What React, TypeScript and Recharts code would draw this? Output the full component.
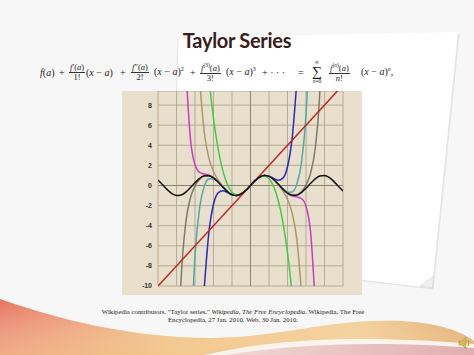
import React from 'react';
import { LineChart, Line, XAxis, YAxis, CartesianGrid, ReferenceLine } from 'recharts';

// sample positions (x) shared by the curves
const xGrid = [
  -10, -9.5, -9, -8.5, -8, -7.5, -7, -6.5, -6, -5.5, -5, -4.5, -4, -3.5, -3, -2.5, -2, -1.5, -1, -0.5,
  0, 0.5, 1, 1.5, 2, 2.5, 3, 3.5, 4, 4.5, 5, 5.5, 6, 6.5, 7, 7.5, 8, 8.5, 9, 9.5, 10,
];

const sinValues = [
  0.544, 0.0752, -0.4121, -0.7985, -0.9894, -0.938, -0.657, -0.2151, 0.2794, 0.7055, 0.9589, 0.9775, 0.7568, 0.3508, -0.1411, -0.5985, -0.9093, -0.9975, -0.8415, -0.4794,
  0, 0.4794, 0.8415, 0.9975, 0.9093, 0.5985, 0.1411, -0.3508, -0.7568, -0.9775, -0.9589, -0.7055, -0.2794, 0.2151, 0.657, 0.938, 0.9894, 0.7985, 0.4121, -0.0752, -0.544,
];

const deg1X = [-10, 10];
const deg1Values = [-10, 10];

// x from -4.5 to 4.5
const deg3Values = [
  10.6875, 6.6667, 3.6458, 1.5, 0.1042, -0.6667, -0.9375, -0.8333, -0.4792,
  0, 0.4792, 0.8333, 0.9375, 0.6667, -0.1042, -1.5, -3.6458, -6.6667, -10.6875,
];
// x from -5 to 5
const deg5Values = [
  -10.2083, -4.6898, -1.8667, -0.731, -0.525, -0.7096, -0.9333, -1.0008, -0.8417, -0.4794,
  0, 0.4794, 0.8417, 1.0008, 0.9333, 0.7096, 0.525, 0.731, 1.8667, 4.6898, 10.2083,
];
// x from -5.5 to 5.5
const deg7Values = [
  10.4958, 5.2927, 2.7243, 1.3841, 0.5456, -0.0911, -0.5885, -0.9079, -0.9974, -0.8415, -0.4794,
  0, 0.4794, 0.8415, 0.9974, 0.9079, 0.5885, 0.0911, -0.5456, -1.3841, -2.7243, -5.2927, -10.4958,
];
// x from -6.5 to 6.5
const deg9Values = [
  -17.231, -7.0285, -2.1953, -0.0896, 0.6391, 0.6617, 0.3284, -0.1453, -0.599, -0.9093, -0.9975, -0.8415, -0.4794,
  0, 0.4794, 0.8415, 0.9975, 0.9093, 0.599, 0.1453, -0.3284, -0.6617, -0.6391, 0.0896, 2.1953, 7.0285, 17.231,
];
// x from -7 to 7
const deg11Values = [
  11.842, 4.692, 2.0603, 1.2948, 1.1336, 1.023, 0.7668, 0.3526, -0.1409, -0.5984, -0.9093, -0.9975, -0.8415, -0.4794,
  0, 0.4794, 0.8415, 0.9975, 0.9093, 0.5984, 0.1409, -0.3526, -0.7668, -1.023, -1.1336, -1.2948, -2.0603, -4.692, -11.842,
];
// x from -8 to 8
const deg13Values = [
  -22.589, -9.349, -3.717, -1.245, -0.0371, 0.618, 0.9376, 0.9732, 0.756, 0.3507, -0.1411, -0.5985, -0.9093, -0.9975, -0.8415, -0.4794,
  0, 0.4794, 0.8415, 0.9975, 0.9093, 0.5985, 0.1411, -0.3507, -0.756, -0.9732, -0.9376, -0.618, 0.0371, 1.245, 3.717, 9.349, 22.589,
];

const yTicks = [-10, -8, -6, -4, -2, 0, 2, 4, 6, 8];
const xTicks = [-10, -8, -6, -4, -2, 0, 2, 4, 6, 8, 10];

const within = (r: number) => xGrid.filter((x) => Math.abs(x) <= r + 1e-9);
const toRows = (xs: number[], ys: number[]) => xs.map((x, i) => ({ x, y: ys[i] }));

const curves = [
  { key: 'd13', rows: toRows(within(8), deg13Values), color: '#7e7a6c' },
  { key: 'd11', rows: toRows(within(7), deg11Values), color: '#c83cc8' },
  { key: 'd9', rows: toRows(within(6.5), deg9Values), color: '#4eaca4' },
  { key: 'd7', rows: toRows(within(5.5), deg7Values), color: '#ac9868' },
  { key: 'd5', rows: toRows(within(5), deg5Values), color: '#2a2ab4' },
  { key: 'd3', rows: toRows(within(4.5), deg3Values), color: '#40cc40' },
  { key: 'd1', rows: toRows(deg1X, deg1Values), color: '#c02424' },
  { key: 'sin', rows: toRows(xGrid, sinValues), color: '#111111' },
];

const serif = '"Liberation Serif", "DejaVu Serif", serif';

const Frac = ({ num, den }: { num: React.ReactNode; den: React.ReactNode }) => (
  <span style={{ display: 'inline-flex', flexDirection: 'column', alignItems: 'center', fontSize: 8.5, lineHeight: '9px' }}>
    <span style={{ padding: '0 1px' }}>{num}</span>
    <span style={{ borderTop: '0.8px solid #333', width: '100%', textAlign: 'center' }}>{den}</span>
  </span>
);

const I = ({ children }: { children: React.ReactNode }) => <i>{children}</i>;

const xa = (
  <span>
    (<I>x</I> − <I>a</I>)
  </span>
);

const formulaParts: [number, React.ReactNode][] = [
  [40, <span><I>f</I>(<I>a</I>)</span>],
  [59, '+'],
  [69, <Frac num={<span><I>f</I>′(<I>a</I>)</span>} den="1!" />],
  [86, xa],
  [120, '+'],
  [131, <Frac num={<span><I>f</I>″(<I>a</I>)</span>} den="2!" />],
  [154, <span>{xa}<sup style={{ fontSize: 6 }}>2</sup></span>],
  [190, '+'],
  [200, <Frac num={<span><I>f</I><sup style={{ fontSize: 5.5 }}>(3)</sup>(<I>a</I>)</span>} den="3!" />],
  [226, <span>{xa}<sup style={{ fontSize: 6 }}>3</sup></span>],
  [262, '+ · · ·'],
  [298, '='],
  [
    312,
    <span style={{ display: 'inline-flex', flexDirection: 'column', alignItems: 'center', lineHeight: '7px' }}>
      <span style={{ fontSize: 6 }}>∞</span>
      <span style={{ fontSize: 14, lineHeight: '12px' }}>∑</span>
      <span style={{ fontSize: 5.5 }}><I>n</I>=0</span>
    </span>,
  ],
  [329, <Frac num={<span><I>f</I><sup style={{ fontSize: 5.5 }}>(<I>n</I>)</sup>(<I>a</I>)</span>} den={<span><I>n</I>!</span>} />],
  [361, <span>{xa}<sup style={{ fontSize: 6 }}><I>n</I></sup>,</span>],
];

const App = () => (
  <div style={{ position: 'absolute', left: 0, top: 0, width: 474, height: 355, overflow: 'hidden', background: '#f6f6f6' }}>
    <svg width={474} height={355} style={{ position: 'absolute', left: 0, top: 0 }}>
      <defs>
        <linearGradient id="swoosh" x1="0" y1="0" x2="1" y2="0">
          <stop offset="0" stopColor="#e8735f" />
          <stop offset="0.35" stopColor="#f0b877" />
          <stop offset="0.75" stopColor="#f2c98c" />
          <stop offset="1" stopColor="#dc9d5c" />
        </linearGradient>
        <linearGradient id="swooshV" x1="0" y1="0" x2="0" y2="1">
          <stop offset="0" stopColor="#ffffff" stopOpacity="0" />
          <stop offset="1" stopColor="#f4d29a" stopOpacity="0.6" />
        </linearGradient>
        <linearGradient id="pink" x1="0" y1="0" x2="1" y2="0">
          <stop offset="0" stopColor="#f0d8d4" />
          <stop offset="1" stopColor="#e2aeb0" />
        </linearGradient>
      </defs>
      <rect x={0} y={0} width={474} height={355} fill="#f7f7f7" />
      {/* sheet of paper behind the chart */}
      <polygon points="178,38 458,32 432,288 172,258" fill="#d6d6d6" transform="translate(1.5,1.5)" opacity={0.6} />
      <polygon points="178,38 458,32 432,288 172,258" fill="#ffffff" />
      <line x1={178} y1={38} x2={172} y2={258} stroke="#dedede" strokeWidth={0.8} />
      <polygon points="420,286 432,288 434,276" fill="#f0f0f0" stroke="#d0d0d0" strokeWidth={0.6} />
      {/* bottom decoration */}
      <path d="M0,299 C40,313 120,338 210,338 C280,338 330,318 400,321 C440,323 462,332 474,341 L474,355 L0,355 Z" fill="url(#swoosh)" />
      <path d="M0,299 C40,313 120,338 210,338 C280,338 330,318 400,321 C440,323 462,332 474,341 L474,355 L0,355 Z" fill="url(#swooshV)" />
      <path d="M205,355 C260,342 340,333 474,344 L474,355 Z" fill="#fbf4ee" />
      <path d="M226,355 C290,345 370,340 474,348 L474,355 Z" fill="url(#pink)" />
      {/* speaker icon */}
      <g transform="translate(459,337)">
        <polygon points="0,4 3,4 7,0 7,12 3,8 0,8" fill="#d8b850" stroke="#a08830" strokeWidth={0.5} />
        <path d="M9,3 Q11,6 9,9" fill="none" stroke="#a08830" strokeWidth={0.8} />
      </g>
    </svg>

    <div
      style={{
        position: 'absolute',
        left: 0,
        top: 28,
        width: 474,
        textAlign: 'center',
        fontFamily: 'Lato, "Open Sans", sans-serif',
        fontWeight: 700,
        fontSize: 20,
        letterSpacing: -0.3,
        color: '#3a1d1d',
      }}
    >
      Taylor Series
    </div>

    <div style={{ position: 'absolute', left: 0, top: 61, width: 474, height: 22, fontFamily: serif, fontSize: 10, color: '#1a1a1a' }}>
      {formulaParts.map(([left, node], i) => (
        <div key={i} style={{ position: 'absolute', left, top: 0, height: 22, display: 'flex', alignItems: 'center', whiteSpace: 'nowrap' }}>
          {node}
        </div>
      ))}
    </div>

    <div style={{ position: 'absolute', left: 122, top: 91, width: 240, height: 204, background: '#e8e0cc' }}>
      <LineChart width={240} height={204} margin={{ top: 0, right: 19, bottom: 9, left: 0 }}>
        <CartesianGrid stroke="#aaa08a" strokeWidth={0.8} />
        <XAxis dataKey="x" type="number" domain={[-10, 10]} ticks={xTicks} allowDataOverflow hide />
        <YAxis
          type="number"
          domain={[-10, 9.4]}
          ticks={yTicks}
          allowDataOverflow
          width={36}
          axisLine={false}
          tickLine={false}
          tickSize={4}
          interval={0}
          tick={{ fontSize: 7, fill: '#333', fontFamily: '"Liberation Sans", Arial, sans-serif', fontWeight: 700 }}
        />
        <ReferenceLine x={0} stroke="#8a8272" strokeWidth={1} />
        <ReferenceLine y={0} stroke="#8a8272" strokeWidth={1} />
        {curves.map((c) => (
          <Line
            key={c.key}
            data={c.rows}
            dataKey="y"
            type="monotone"
            stroke={c.color}
            strokeWidth={1.5}
            dot={false}
            activeDot={false}
            isAnimationActive={false}
          />
        ))}
      </LineChart>
    </div>

    <div
      style={{
        position: 'absolute',
        left: 40,
        top: 308,
        width: 386,
        textAlign: 'center',
        fontFamily: serif,
        fontSize: 6.8,
        lineHeight: '8px',
        color: '#222',
      }}
    >
      Wikipedia contributors. "Taylor series." <i>Wikipedia, The Free Encyclopedia</i>. Wikipedia, The Free
      <br />
      Encyclopedia, 27 Jan. 2010. Web. 30 Jan. 2010.
    </div>
  </div>
);

export default App;
